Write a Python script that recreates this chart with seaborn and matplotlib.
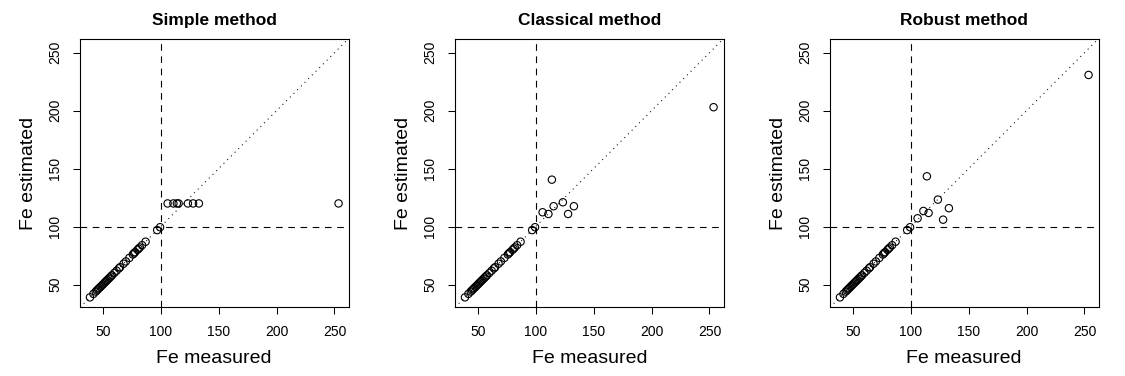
import numpy as np
import pandas as pd
import seaborn as sns
import matplotlib
matplotlib.use("Agg")
import matplotlib.pyplot as plt

sns.set_style("ticks")
plt.rcParams['font.family'] = ['Liberation Sans', 'DejaVu Sans']
plt.rcParams['text.color'] = 'black'
plt.rcParams['axes.labelcolor'] = 'black'
plt.rcParams['xtick.color'] = 'black'
plt.rcParams['ytick.color'] = 'black'

# measured Fe values below the threshold (kept as they are by every method)
fe_low = [39, 42, 44, 45, 46, 47, 48, 49, 50, 51, 52, 53, 54, 55, 56, 57, 58,
          60, 62, 64, 65, 68, 70, 73, 76, 77, 78, 80, 81, 82, 84, 87, 97, 99.5]

# measured Fe values above the threshold and their estimates
fe_high = [106, 111, 114, 115.5, 123.5, 128, 133, 253.5]
simple_high = [120, 120, 120, 120, 120, 120, 120, 120]
classical_high = [112.4, 110.9, 140.5, 117.6, 121, 110.9, 117.6, 203]
robust_high = [107.2, 113.5, 143.4, 111.8, 123.3, 106, 115.9, 230.8]

methods = ["Simple method", "Classical method", "Robust method"]
estimates = [simple_high, classical_high, robust_high]
threshold = 100

measured = fe_low + fe_high
lo, hi = min(measured), max(measured)
pad = 0.04 * (hi - lo)
lim = (lo - pad, hi + pad)

fig = plt.figure(figsize=(11.25, 3.76), dpi=100)

for i, (title, est) in enumerate(zip(methods, estimates)):
    df = pd.DataFrame({"measured": measured, "estimated": fe_low + est})
    ax = fig.add_axes([(80 + 375 * i) / 1125, 68.7 / 376, 268.5 / 1125, 268.6 / 376])
    sns.scatterplot(data=df, x="measured", y="estimated", ax=ax, marker="o",
                    s=28, facecolor="none", edgecolor="black", linewidth=0.8,
                    zorder=3)
    ax.axline((0, 0), slope=1, color="black", lw=0.75, linestyle=(0, (1, 4)))
    ax.axhline(threshold, color="black", lw=0.8, linestyle=(0, (6, 5)))
    ax.axvline(threshold, color="black", lw=0.8, linestyle=(0, (6, 5)))
    ax.set_xlim(lim)
    ax.set_ylim(lim)
    ax.set_xticks([50, 100, 150, 200, 250])
    ax.set_yticks([50, 100, 150, 200, 250])
    ax.tick_params(axis="both", length=5, width=0.75, pad=8, labelsize=10,
                   color="black", labelcolor="black")
    for lab in ax.get_yticklabels():
        lab.set_rotation(90)
        lab.set_va("center")
    for sp in ax.spines.values():
        sp.set_visible(True)
        sp.set_color("black")
        sp.set_linewidth(0.8)
    ax.set_xlabel("Fe measured", fontsize=14, labelpad=8, color="black")
    ax.set_ylabel("Fe estimated", fontsize=14, labelpad=8, color="black")
    ax.set_title(title, fontsize=12.5, fontweight="bold", pad=10, color="black")

fig.savefig("out.png", dpi=100)
